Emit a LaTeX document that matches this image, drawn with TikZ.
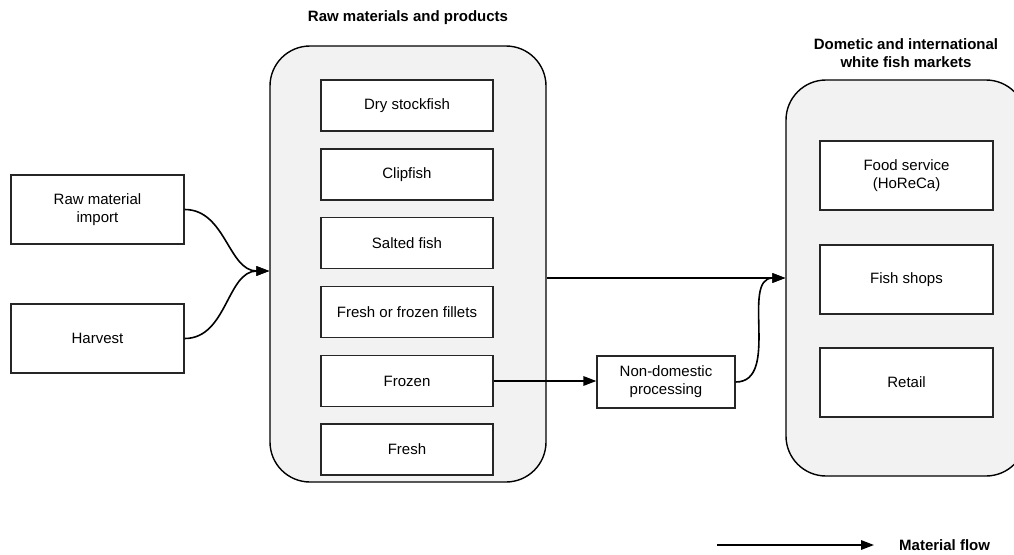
\documentclass[tikz,border=0pt]{standalone}
\usepackage{fontspec}
\setmainfont{Liberation Sans}
\usetikzlibrary{arrows.meta}
\begin{document}
\begin{tikzpicture}[x=1pt,y=-1pt,
  font=\fontsize{15pt}{18pt}\selectfont,
  container/.style={draw=black, fill=black!5, line width=1.4pt, rounded corners=40pt, inner sep=0pt},
  itembox/.style={draw=black!85, fill=white, line width=1.3pt, align=center, inner sep=0pt,
                  minimum width=172pt, minimum height=51pt},
  sidebox/.style={itembox, minimum width=173pt, minimum height=69pt},
  heading/.style={font=\fontsize{15pt}{18pt}\selectfont\bfseries, align=center, inner sep=0pt},
  flow/.style={draw=black, line width=1.6pt, -{Triangle[length=13pt,width=9.5pt]}}
]
\useasboundingbox (0,0) rectangle (1014,554);
\clip (0,0) rectangle (1014,554);

% containers
\node[container, minimum width=276pt, minimum height=436pt] (lc) at (408,264) {};
\node[container, minimum width=240pt, minimum height=396pt] (rc) at (906,278) {};

% headings
\node[heading] (lct) at (408,18) {Raw materials and products};
\node[heading] (rct) at (906,53) {Dometic and international\\white fish markets};

% raw materials and products
\node[itembox] (dry)    at (407,105.5) {Dry stockfish};
\node[itembox] (clip)   at (407,174.5) {Clipfish};
\node[itembox] (salt)   at (407,243)   {Salted fish};
\node[itembox] (fill)   at (407,312)   {Fresh or frozen fillets};
\node[itembox] (frozen) at (407,381)   {Frozen};
\node[itembox] (fresh)  at (407,449.5) {Fresh};

% sources
\node[sidebox] (rmi)  at (97.5,209.5) {Raw material\\import};
\node[sidebox] (harv) at (97.5,338.5) {Harvest};

% markets
\node[sidebox] (food)  at (906.5,175.5) {Food service\\(HoReCa)};
\node[sidebox] (shops) at (906.5,279.5) {Fish shops};
\node[sidebox] (ret)   at (906.5,382.5) {Retail};

% processing abroad
\node[itembox, minimum width=138pt, minimum height=52pt] (nd) at (666,382) {Non-domestic\\processing};

% material flows
\coordinate (lcin) at ([yshift=-7pt]lc.west);
\draw[flow] (rmi.east) to[out=0,in=180] (lcin);
\draw[flow] (harv.east) to[out=0,in=180] (lcin);
\draw[flow] (lc.east |- rc.west) -- (rc.west);
\draw[flow] (frozen.east) -- (frozen.east -| nd.west);
\draw[flow] (nd.east) to[out=0,in=180] (rc.west);

% legend
\coordinate (lg1) at (717,545);
\coordinate (lg2) at (874,545);
\draw[flow] (lg1) -- (lg2);
\node[heading, anchor=west] (lgt) at (899,545) {Material flow};
\end{tikzpicture}
\end{document}
